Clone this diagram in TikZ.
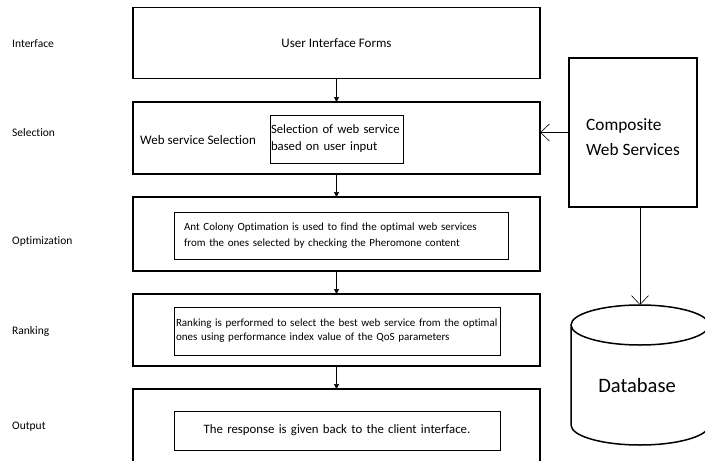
\documentclass[tikz,border=0pt]{standalone}
\usepackage{fontspec}
\setmainfont{Carlito}[Ligatures=NoCommon]
\usetikzlibrary{arrows.meta,positioning,calc}
\hyphenpenalty=10000

\begin{document}
\begin{tikzpicture}[x=1pt,y=1pt,font=\fontsize{13}{17}\selectfont,
 stage/.style={draw,line width=1.8pt,inner sep=0pt,outer sep=0pt,minimum width=407pt},
 inbox/.style={draw,line width=.6pt,inner ysep=0pt,outer sep=0pt,align=left},
 steplabel/.style={anchor=west,inner sep=0pt,font=\fontsize{11.5}{14}\selectfont},
 flow/.style={line width=.7pt,-{Triangle[length=5pt,width=5pt]}},
 openarrow/.style={line width=.6pt,-{Straight Barb[length=9pt,width=17pt,line width=.6pt]}}]
\useasboundingbox (0,0) rectangle (705,-461);
\clip (0,0) rectangle (705,-461);
\fill[white] (0,0) rectangle (705,-461);
% stage labels on the left
\foreach \y/\lab/\nm in {-44/Interface/lint,-133/Selection/lsel,-241/Optimization/lopt,-331/Ranking/lrank,-427/Output/lout}
 \node[steplabel] (\nm) at (12,\y) {\lab};
% stage boxes
\node[stage,minimum height=71pt] (ui) at (336.5,-43) {User Interface Forms};
\node[stage,minimum height=72pt] (sel) at (336.5,-138) {};
\node[stage,minimum height=74pt] (opt) at (336.5,-234) {};
\node[stage,minimum height=72pt] (rank) at (336.5,-330) {};
\node[stage,minimum height=100pt] (out) at (336.5,-439) {};
\node[anchor=west,inner sep=0pt] (wss) at (140,-140) {Web service Selection};
\node[inbox,text width=131pt,inner xsep=1pt,minimum height=48pt,font=\fontsize{12.7}{17}\selectfont] (selbox) at (336.5,-139)
 {Selection of web service\\based on user input};
\node[inbox,text width=314pt,inner xsep=10pt,minimum height=47pt,font=\fontsize{11}{16}\selectfont] (optbox) at (341,-235.5)
 {Ant Colony Optimation is used to find the optimal web services\\from the ones selected by checking the Pheromone content};
\node[inbox,text width=322pt,inner xsep=2pt,minimum height=48pt,font=\fontsize{11}{14}\selectfont] (rankbox) at (337,-331)
 {Ranking is performed to select the best web service from the optimal\\ones using performance index value of the QoS parameters};
\node[inbox,align=center,text width=320pt,inner xsep=3pt,minimum height=39pt,font=\fontsize{12.8}{15}\selectfont] (outbox) at (337,-430.5)
 {The response is given back to the client interface.};
\foreach \a/\b in {ui/sel,sel/opt,opt/rank,rank/out}
 \draw[flow] (\a.south) -- (\b.north);
% composite services and database
\node[stage,minimum width=128pt,minimum height=149pt] (cws) at (633,-132.5) {};
\node[anchor=west,align=left,inner sep=0pt,font=\fontsize{17.3}{25}\selectfont] (cwstext) at (586,-137)
 {Composite\\Web Services};
\draw[openarrow] (cws.west) -- (cws.west -| sel.east);
\coordinate (dbtop) at (640,-305);
\draw[line width=1.5pt] (571,-325) -- (571,-425)
 arc[start angle=180,end angle=360,x radius=69,y radius=20] -- (709,-325)
 arc[start angle=0,end angle=180,x radius=69,y radius=20]
 arc[start angle=180,end angle=360,x radius=69,y radius=20];
\node[font=\fontsize{20.5}{24}\selectfont] (db) at (637,-385) {Database};
\draw[openarrow] (cws.south -| dbtop) -- (dbtop);
\end{tikzpicture}
\end{document}
